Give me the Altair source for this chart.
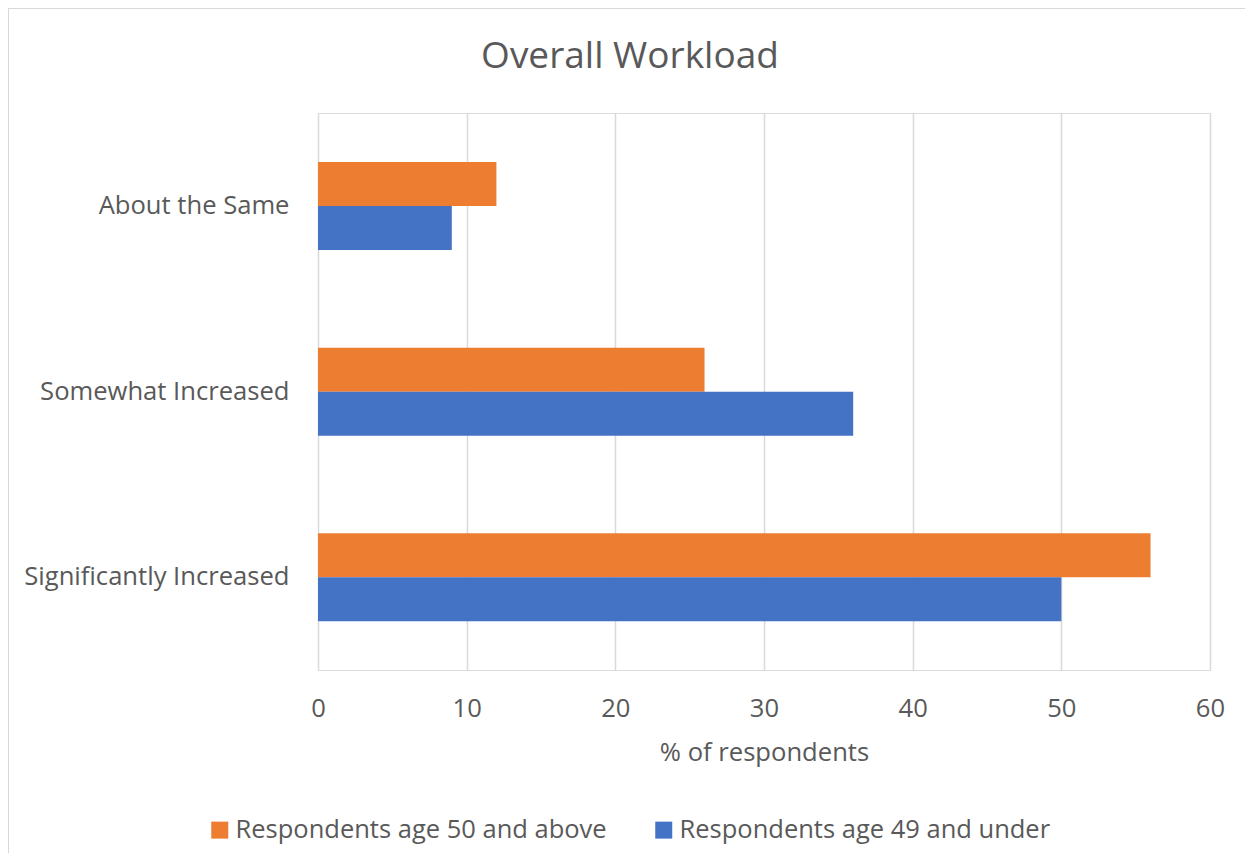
import altair as alt
import pandas as pd

categories = ["About the Same", "Somewhat Increased", "Significantly Increased"]
series_names = ["Respondents age 50 and above", "Respondents age 49 and under"]
age50_above = [12, 26, 56]
age49_under = [9, 36, 50]
series_colors = ["#ED7D31", "#4472C4"]
x_ticks = [0, 10, 20, 30, 40, 50, 60]

rows = []
for c, v in zip(categories, age50_above):
    rows.append({"category": c, "series": series_names[0], "value": v})
for c, v in zip(categories, age49_under):
    rows.append({"category": c, "series": series_names[1], "value": v})
df = pd.DataFrame(rows)

FONT = "Open Sans"
GRAY = "#595959"
FS = 25.6

bars = alt.Chart(df).mark_bar(size=44).encode(
    y=alt.Y("category:N", sort=categories, title=None,
            scale=alt.Scale(paddingInner=0, paddingOuter=0),
            axis=alt.Axis(domain=False, ticks=False, labelFontSize=FS, labelColor=GRAY,
                          labelFont=FONT, labelPadding=29, grid=False, labelLimit=400)),
    yOffset=alt.YOffset("series:N", sort=series_names,
                        scale=alt.Scale(paddingInner=0, paddingOuter=0, range=[49, 137])),
    x=alt.X("value:Q", title="% of respondents",
            scale=alt.Scale(domain=[0, 60], nice=False),
            axis=alt.Axis(values=x_ticks, domain=False, ticks=False, grid=True,
                          gridColor="#d9d9d9", gridWidth=1.5, labelFlush=False,
                          labelFontSize=FS, labelColor=GRAY, labelFont=FONT, labelPadding=26,
                          titleFontSize=FS, titleColor=GRAY, titleFont=FONT,
                          titleFontWeight="normal", titlePadding=19)),
    color=alt.Color("series:N", sort=series_names,
                    scale=alt.Scale(domain=series_names, range=series_colors),
                    legend=alt.Legend(title=None, orient="none", direction="horizontal",
                                      legendX=-111, legendY=704,
                                      symbolType="square", symbolSize=289,
                                      symbolStrokeWidth=0, labelFontSize=25.5,
                                      labelColor=GRAY, labelFont=FONT,
                                      labelOffset=3, columnPadding=44,
                                      labelLimit=600)),
)

border = alt.Chart(pd.DataFrame({"k": [0]})).mark_rect(
    fill=None, stroke="#d9d9d9", strokeWidth=2
).encode(
    x=alt.value(-310), x2=alt.value(1200),
    y=alt.value(-105), y2=alt.value(900),
)

chart = alt.layer(border, bars).properties(
    width=892, height=557,
    title=alt.Title("Overall Workload", fontSize=37, font=FONT, color=GRAY,
                    fontWeight="normal", anchor="middle", dx=-134, offset=-69),
    autosize=alt.AutoSizeParams(type="none"),
    padding={"left": 310, "top": 105, "right": 35, "bottom": 183},
).configure_view(stroke=None).configure(background="white")

chart.save("out.html", embed_options={"renderer": "svg", "actions": False})
